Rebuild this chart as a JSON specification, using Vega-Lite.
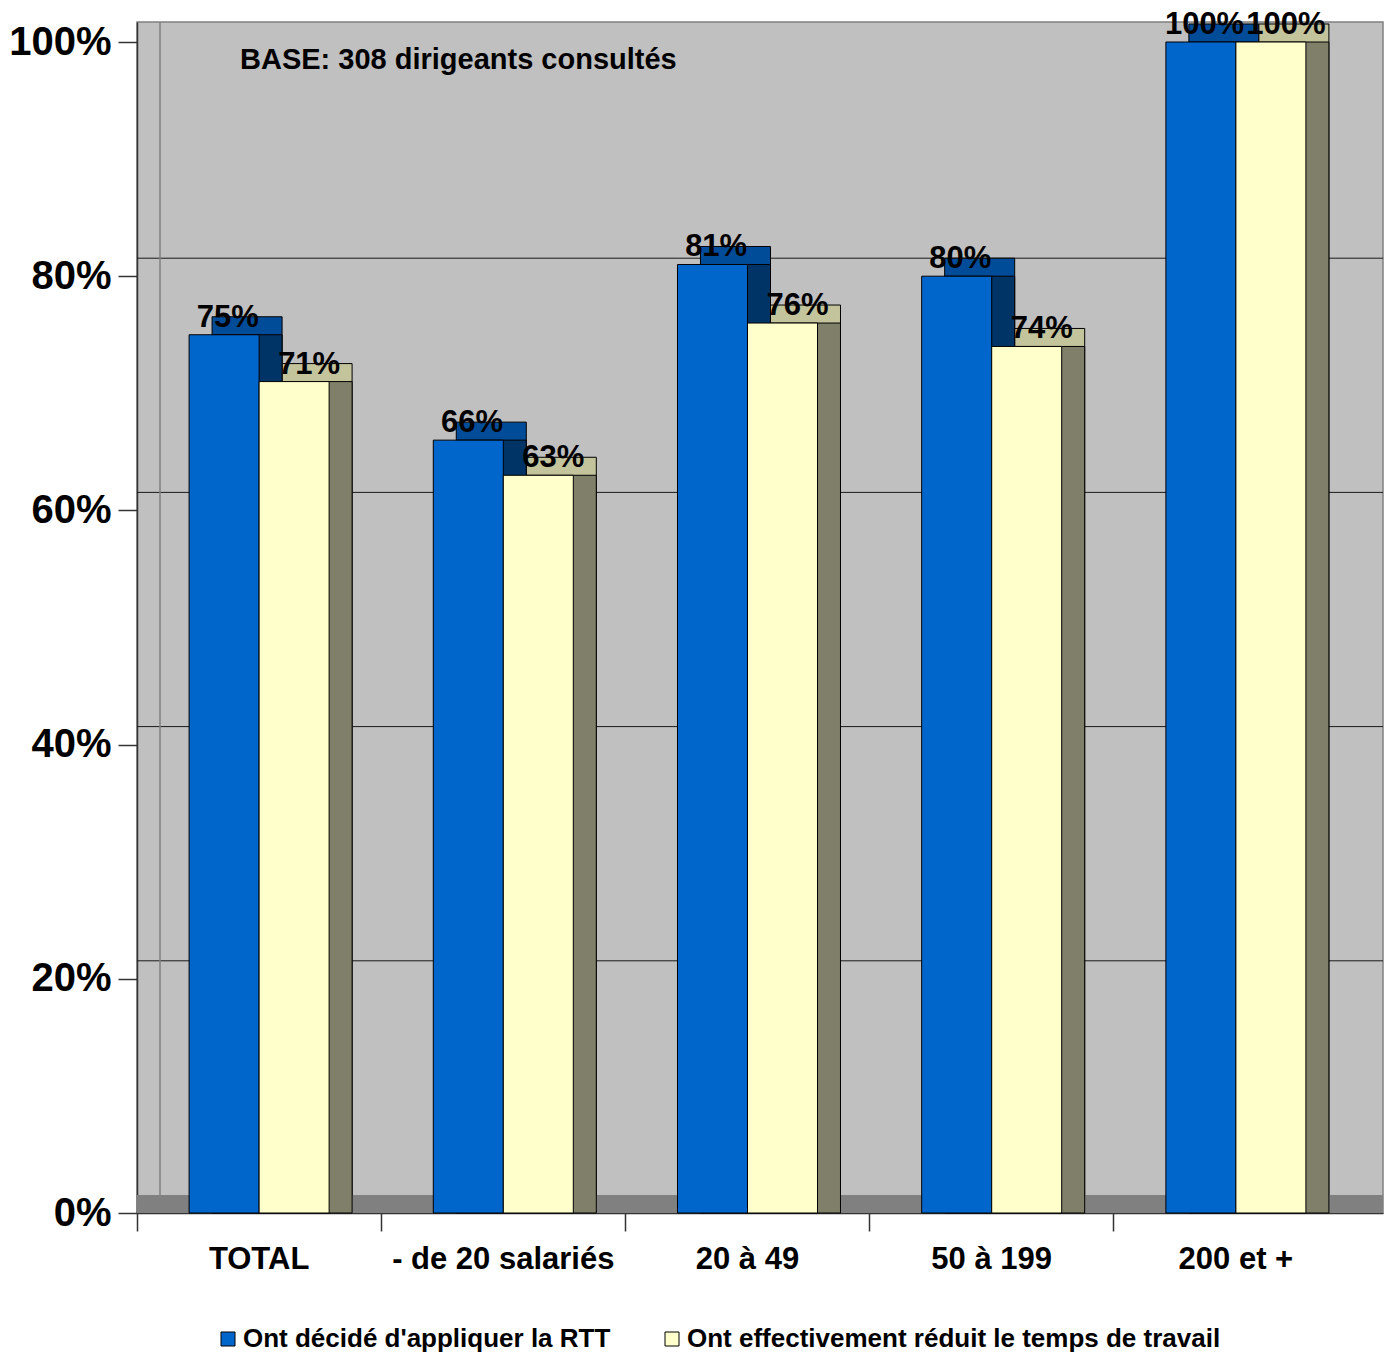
{
  "$schema": "https://vega.github.io/schema/vega-lite/v6.json",
  "width": 1246,
  "height": 1191,
  "autosize": {"type": "none"},
  "padding": {"left": 137, "top": 22, "right": 7, "bottom": 140},
  "background": "white",
  "config": {
    "view": {"fill": "#C0C0C0", "stroke": "#808080", "strokeWidth": 1.5},
    "font": "Liberation Sans"
  },
  "datasets": {
    "bars": [
      {"cat": "TOTAL", "series": "Ont décidé d'appliquer la RTT", "value": 0.75},
      {"cat": "TOTAL", "series": "Ont effectivement réduit le temps de travail", "value": 0.71},
      {"cat": "- de 20 salariés", "series": "Ont décidé d'appliquer la RTT", "value": 0.66},
      {"cat": "- de 20 salariés", "series": "Ont effectivement réduit le temps de travail", "value": 0.63},
      {"cat": "20 à 49", "series": "Ont décidé d'appliquer la RTT", "value": 0.81},
      {"cat": "20 à 49", "series": "Ont effectivement réduit le temps de travail", "value": 0.76},
      {"cat": "50 à 199", "series": "Ont décidé d'appliquer la RTT", "value": 0.80},
      {"cat": "50 à 199", "series": "Ont effectivement réduit le temps de travail", "value": 0.74},
      {"cat": "200 et +", "series": "Ont décidé d'appliquer la RTT", "value": 1.00},
      {"cat": "200 et +", "series": "Ont effectivement réduit le temps de travail", "value": 1.00}
    ],
    "grid": [{"v": 0.2}, {"v": 0.4}, {"v": 0.6}, {"v": 0.8}],
    "note": [{"label": "BASE: 308 dirigeants consultés"}]
  },
  "resolve": {"scale": {"xOffset": "independent"}},
  "layer": [
    {
      "data": {"name": "grid"},
      "mark": {"type": "rule", "color": "#1a1a1a", "strokeWidth": 1, "yOffset": -18},
      "encoding": {
        "y": {"field": "v", "type": "quantitative", "scale": {"domain": [0, 1.01708], "nice": false, "zero": true}}
      }
    },
    {
      "data": {"name": "note"},
      "mark": {"type": "rule", "color": "#808080", "strokeWidth": 1.5, "xOffset": 23},
      "encoding": {
        "x": {"datum": "TOTAL", "type": "nominal", "bandPosition": 0}
      }
    },
    {
      "data": {"name": "note"},
      "mark": {"type": "rule", "color": "#808080", "strokeWidth": 18, "yOffset": -9},
      "encoding": {
        "y": {"datum": 0, "type": "quantitative"}
      }
    },
    {
      "data": {"name": "bars"},
      "mark": {"type": "bar", "yOffset": -18, "y2Offset": -18, "stroke": "#000000", "strokeWidth": 1},
      "encoding": {
        "x": {"field": "cat", "type": "nominal", "sort": ["TOTAL", "- de 20 salariés", "20 à 49", "50 à 199", "200 et +"]},
        "xOffset": {"field": "series", "type": "nominal", "sort": ["Ont décidé d'appliquer la RTT", "Ont effectivement réduit le temps de travail"], "scale": {"paddingOuter": 0.744, "paddingInner": 0, "align": 0.7207}},
        "y": {"field": "value", "type": "quantitative"},
        "color": {"condition": {"test": "datum.series === \"Ont décidé d'appliquer la RTT\"", "value": "#004C99"}, "value": "#C4C49C"}
      }
    },
    {
      "data": {"name": "bars"},
      "mark": {"type": "bar", "yOffset": 0, "y2Offset": -18, "stroke": "#000000", "strokeWidth": 1},
      "encoding": {
        "x": {"field": "cat", "type": "nominal", "sort": ["TOTAL", "- de 20 salariés", "20 à 49", "50 à 199", "200 et +"]},
        "xOffset": {"field": "series", "type": "nominal", "sort": ["Ont décidé d'appliquer la RTT", "Ont effectivement réduit le temps de travail"], "scale": {"paddingOuter": 0.744, "paddingInner": 0, "align": 0.7207}},
        "y": {"field": "value", "type": "quantitative"},
        "color": {"condition": {"test": "datum.series === \"Ont décidé d'appliquer la RTT\"", "value": "#003366"}, "value": "#80806A"}
      }
    },
    {
      "data": {"name": "bars"},
      "mark": {"type": "bar", "stroke": "#000000", "strokeWidth": 1, "opacity": 1},
      "encoding": {
        "x": {
          "field": "cat", "type": "nominal",
          "sort": ["TOTAL", "- de 20 salariés", "20 à 49", "50 à 199", "200 et +"],
          "scale": {"paddingInner": 0, "paddingOuter": 0.0512, "align": 0},
          "axis": {
            "title": null, "labelAngle": 0, "bandPosition": 0, "labelOffset": 0, "labelAlign": "center", "labelLimit": 500,
            "labelFont": "Liberation Sans", "labelFontWeight": "bold", "labelFontSize": 31, "labelColor": "#000000",
            "labelPadding": 28, "tickSize": 18, "tickColor": "#333333", "tickWidth": 1.5,
            "domainColor": "#333333", "domainWidth": 1.5
          }
        },
        "xOffset": {"field": "series", "type": "nominal", "sort": ["Ont décidé d'appliquer la RTT", "Ont effectivement réduit le temps de travail"], "scale": {"paddingOuter": 0.744, "paddingInner": 0}},
        "y": {
          "field": "value", "type": "quantitative",
          "axis": {
            "title": null, "values": [0, 0.2, 0.4, 0.6, 0.8, 1], "format": ".0%", "grid": false,
            "labelFont": "Liberation Sans", "labelFontWeight": "bold", "labelFontSize": 40, "labelColor": "#000000",
            "labelPadding": 7, "tickSize": 19, "tickColor": "#333333", "tickWidth": 1.5,
            "domainColor": "#333333", "domainWidth": 1.5
          }
        },
        "color": {
          "field": "series", "type": "nominal",
          "scale": {"domain": ["Ont décidé d'appliquer la RTT", "Ont effectivement réduit le temps de travail"], "range": ["#0066CC", "#FFFFCC"]},
          "legend": {
            "title": null, "orient": "none", "direction": "horizontal", "legendX": 78, "legendY": 1304,
            "symbolType": "square", "symbolSize": 196, "symbolStrokeColor": "#000000", "symbolStrokeWidth": 1, "symbolOpacity": 1,
            "labelFont": "Liberation Sans", "labelFontWeight": "bold", "labelFontSize": 26, "labelColor": "#000000",
            "labelOffset": 2, "columnPadding": 48, "padding": 0, "labelLimit": 700
          }
        }
      }
    },
    {
      "data": {"name": "bars"},
      "mark": {"type": "text", "dy": -8, "baseline": "alphabetic", "align": "center", "font": "Liberation Sans", "fontWeight": "bold", "fontSize": 31, "color": "#000000"},
      "encoding": {
        "x": {"field": "cat", "type": "nominal", "sort": ["TOTAL", "- de 20 salariés", "20 à 49", "50 à 199", "200 et +"]},
        "xOffset": {"field": "series", "type": "nominal", "sort": ["Ont décidé d'appliquer la RTT", "Ont effectivement réduit le temps de travail"], "scale": {"type": "point", "padding": 1.244, "align": 0.5574}},
        "y": {"field": "value", "type": "quantitative"},
        "text": {"field": "value", "type": "quantitative", "format": ".0%"}
      }
    },
    {
      "data": {"name": "note"},
      "mark": {"type": "text", "align": "left", "baseline": "middle", "dx": 103, "dy": 18, "font": "Liberation Sans", "fontWeight": "bold", "fontSize": 29, "color": "#000000"},
      "encoding": {
        "x": {"datum": "TOTAL", "type": "nominal", "bandPosition": 0},
        "y": {"datum": 1, "type": "quantitative"},
        "text": {"field": "label"}
      }
    }
  ]
}
